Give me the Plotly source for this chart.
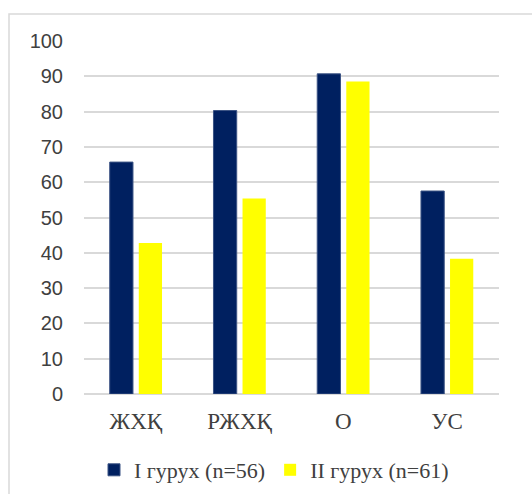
import plotly.graph_objects as go

# Categories and group percentages
categories = ["ЖХҚ", "РЖХҚ", "О", "УС"]
group1_name = "I гурух (n=56)"
group2_name = "II гурух (n=61)"
group1_values = [65.7, 80.3, 90.7, 57.5]
group2_values = [42.8, 55.4, 88.5, 38.3]
y_ticks = [0, 10, 20, 30, 40, 50, 60, 70, 80, 90, 100]

NAVY = "#002060"
YELLOW = "#FFFF00"
SERIF = "Liberation Serif, Times New Roman, serif"
SANS = "Liberation Sans, Arial, sans-serif"

fig = go.Figure()
fig.add_trace(go.Bar(
    x=categories, y=group1_values, name=group1_name,
    marker=dict(color=NAVY, line=dict(color="#3b5384", width=1)),
))
fig.add_trace(go.Bar(
    x=categories, y=group2_values, name=group2_name,
    marker=dict(color=YELLOW, line=dict(width=0)),
))

W, H = 532, 494
L, R, T, B = 84, 33, 41, 100
pw, ph = W - L - R, H - T - B

def px_x(p):
    return (p - L) / pw

def px_y(p):
    return (H - B - p) / ph

# outer chart frame
fig.add_shape(
    type="rect", xref="paper", yref="paper",
    x0=px_x(9), x1=px_x(560), y0=px_y(520), y1=px_y(14),
    line=dict(color="#d9d9d9", width=1.5), fillcolor="rgba(0,0,0,0)",
    layer="below",
)

fig.update_layout(
    width=W, height=H,
    margin=dict(l=L, r=R, t=T, b=B, autoexpand=False),
    paper_bgcolor="white", plot_bgcolor="white",
    barmode="group", bargap=0.44, bargroupgap=0.2,
    showlegend=True,
    legend=dict(
        orientation="h", x=px_x(274), xanchor="center",
        y=px_y(470), yanchor="middle",
        font=dict(family=SERIF, size=22, color="#404040"),
        itemwidth=30, traceorder="normal",
    ),
    xaxis=dict(
        showgrid=False, showline=False, zeroline=False, ticks="",
        tickfont=dict(family=SERIF, size=23, color="#404040"),
        ticklabelstandoff=11,
    ),
    yaxis=dict(
        range=[0, 100], tickvals=y_ticks, showgrid=True,
        gridcolor="#d9d9d9", gridwidth=2, zeroline=True,
        zerolinecolor="#d9d9d9", zerolinewidth=2, showline=False, ticks="",
        tickfont=dict(family=SANS, size=20, color="#404040"),
        ticklabelstandoff=20,
    ),
)

fig.write_html("out.html")
